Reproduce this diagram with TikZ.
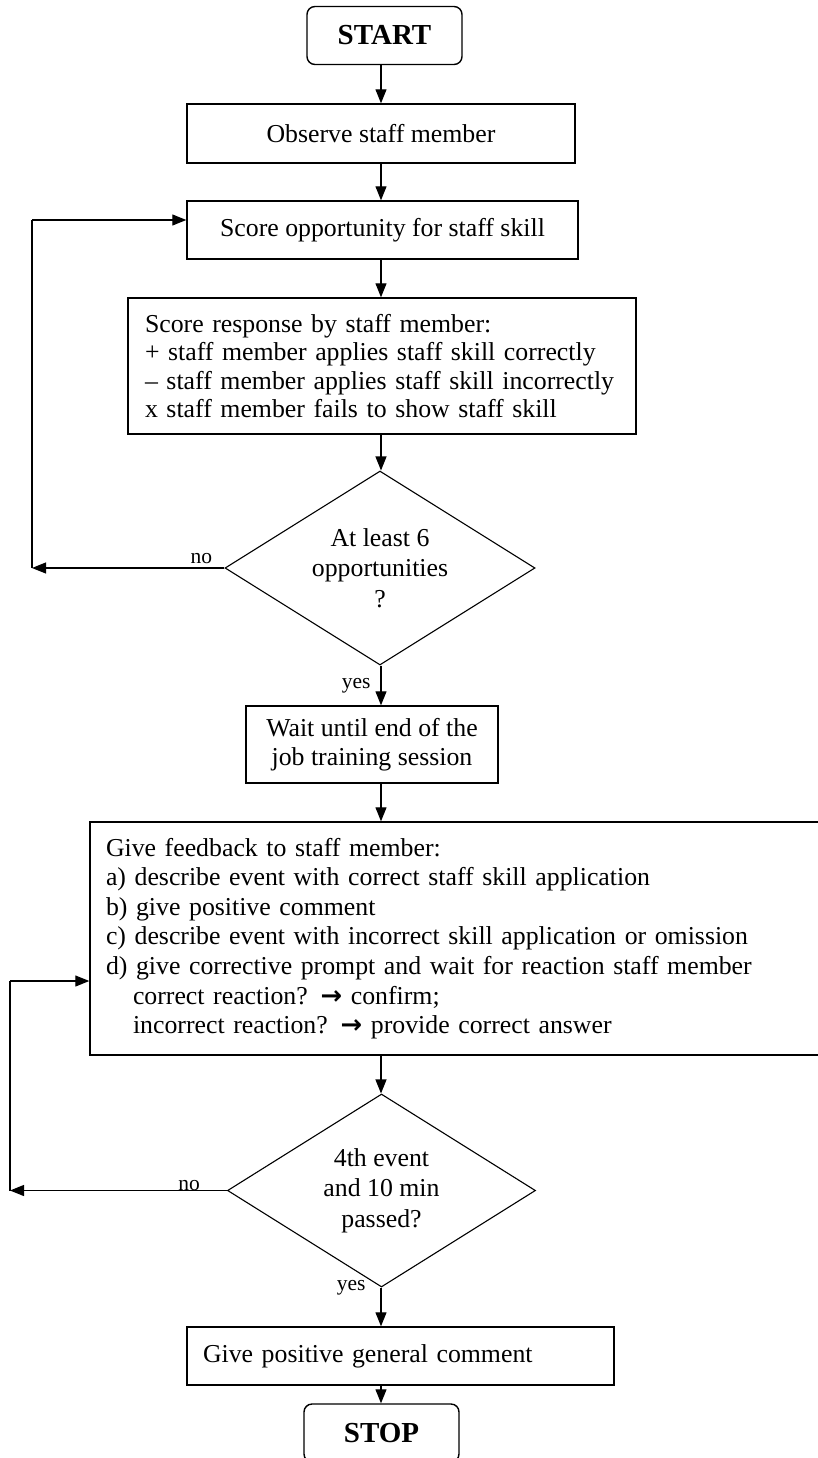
\documentclass[tikz,border=0pt]{standalone}
\usepackage{fontspec}
\setmainfont{Liberation Serif}
\newfontfamily\arrowfont{DejaVu Sans}
\usetikzlibrary{arrows.meta,shapes.geometric}
\begin{document}
\begin{tikzpicture}[x=1pt,y=-1pt,
  base/.style={font=\fontsize{25.8}{29.6}\selectfont},
  box/.style={base, draw, line width=1.4pt, inner sep=0pt},
  term/.style={draw, line width=1.4pt, rounded corners=8pt, minimum width=155pt, minimum height=58pt, inner sep=0pt, font=\fontsize{29}{33}\selectfont\bfseries},
  dec/.style={draw, diamond, shape aspect=1.6, line width=1.1pt, inner sep=0pt, align=center, font=\fontsize{25.8}{30.5}\selectfont},
  arr/.style={line width=1.1pt, -{Triangle[length=14pt,width=11pt]}},
  ln/.style={line width=1.1pt},
  lab/.style={font=\fontsize{21.5}{24}\selectfont, inner sep=0pt}
]
\useasboundingbox (0,0) rectangle (818,1458);
\clip (0,0) rectangle (818,1458);
\coordinate (col) at (381,0);

\node[term] (start) at (384.5,35.5) {START};
\node[box, minimum width=388pt, minimum height=59pt] (observe) at (381,133.5) {Observe staff member};
\node[box, minimum width=391pt, minimum height=58pt] (scoreopp) at (382.5,230) {Score opportunity for staff skill};
\node[box, minimum width=508pt, minimum height=136pt, text width=474pt, inner xsep=17pt, align=left, font=\fontsize{25.8}{28.2}\selectfont] (resp) at (382,366) {Score response by staff member:\\+ staff member applies staff skill correctly\\– staff member applies staff skill incorrectly\\x staff member fails to show staff skill};
\node[dec, minimum width=310pt, minimum height=194pt] (d1) at (380,568) {At least 6\\opportunities\\?};
\node[box, minimum width=252pt, minimum height=77pt, align=center, font=\fontsize{25.8}{29}\selectfont] (wait) at (372,744.5) {Wait until end of the\\job training session};
\node[box, minimum width=732pt, minimum height=233pt, text width=700pt, inner xsep=16pt, align=left] (fb) at (456,938.5) {Give feedback to staff member:\\
a) describe event with correct staff skill application\\
b) give positive comment\\
c) describe event with incorrect skill application or omission\\
d) give corrective prompt and wait for reaction staff member\\
\hspace*{27pt}correct reaction? {\arrowfont\bfseries →} confirm;\\
\hspace*{27pt}incorrect reaction? {\arrowfont\bfseries →} provide correct answer};
\node[dec, minimum width=308pt, minimum height=193pt] (d2) at (381.5,1190.5) {4th event\\and 10 min\\passed?};
\node[box, minimum width=427pt, minimum height=58pt, text width=395pt, inner xsep=16pt, align=left] (give) at (400.5,1356) {Give positive general comment};
\node[term] (stop) at (381.5,1433) {STOP};

\draw[arr] (col |- start.south) -- (col |- observe.north);
\draw[arr] (col |- observe.south) -- (col |- scoreopp.north);
\draw[arr] (col |- scoreopp.south) -- (col |- resp.north);
\draw[arr] (col |- resp.south) -- (col |- d1.north);
\draw[arr] (col |- d1.south) -- node[lab, left=10pt] {yes} (col |- wait.north);
\draw[arr] (col |- wait.south) -- (col |- fb.north);
\draw[arr] (col |- fb.south) -- (col |- d2.north);
\draw[arr] (col |- d2.south) node[lab, left=15pt] {yes} -- (col |- give.north);
\draw[arr] (col |- give.south) -- (col |- stop.north);

\coordinate (l1) at (32,568);
\coordinate (l1t) at (32,220);
\draw[arr] (d1.west) -- node[lab, pos=0.12, above=4pt] {no} (l1);
\draw[ln] (l1) -- (l1t);
\draw[arr] (l1t) -- (scoreopp.west |- l1t);

\coordinate (l2) at (10,1190.5);
\coordinate (l2t) at (10,981);
\draw[arr] (d2.west) -- node[lab, pos=0.174, above=-1pt] {no} (l2);
\draw[ln] (l2) -- (l2t);
\draw[arr] (l2t) -- (fb.west |- l2t);
\end{tikzpicture}
\end{document}
